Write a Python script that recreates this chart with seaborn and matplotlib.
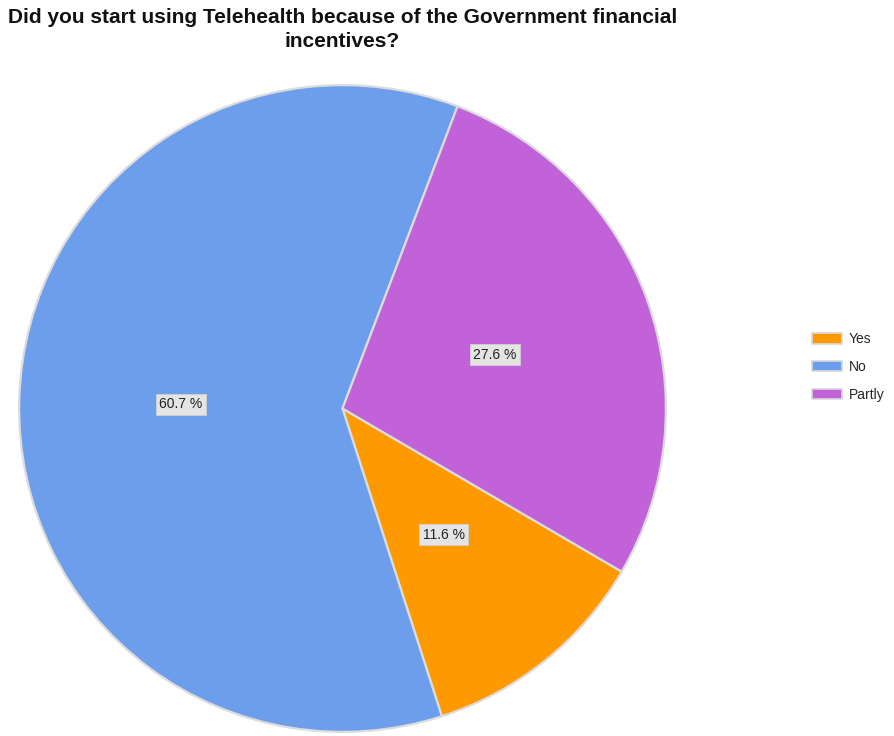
import matplotlib
matplotlib.use("Agg")
import matplotlib.pyplot as plt
import seaborn as sns

# Survey answers and their shares (percent)
categories = ["Yes", "No", "Partly"]
shares = [11.6, 60.7, 27.6]
colors = ["#FF9900", "#6D9EEB", "#C262D8"]
title = "Did you start using Telehealth because of the Government financial\nincentives?"

sns.set_theme(style="white")
plt.rcParams["font.family"] = ["Liberation Sans", "DejaVu Sans"]

W, H = 895, 736
fig = plt.figure(figsize=(W / 100, H / 100), dpi=100)

# Pie occupies a square box in pixel coordinates
cx, cy, r = 342.5, 408.5, 325
ax = fig.add_axes([(cx - r) / W, (H - cy - r) / H, 2 * r / W, 2 * r / H])

wedges, texts = ax.pie(
    shares,
    colors=sns.color_palette(colors),
    labels=[f"{v:.1f} %" for v in shares],
    labeldistance=0.5,
    startangle=-30.3,
    counterclock=False,
    radius=1.0,
    wedgeprops=dict(edgecolor="#DCDCDC", linewidth=1.6),
    textprops=dict(fontsize=10, color="#222222"),
)
for t in texts:
    t.set_ha("center")
    t.set_va("center")
    t.set_bbox(dict(boxstyle="square,pad=0.25", fc="#E4E4E4", ec="#D0D0D0", lw=0.6))

ax.set_xlim(-1.005, 1.005)
ax.set_ylim(-1.005, 1.005)
ax.set_aspect("equal")
ax.axis("off")

fig.text(cx / W, 1 - 8 / H, title, ha="center", va="top",
         fontsize=15, fontweight="bold", color="#111111", linespacing=1.32)

leg = fig.legend(
    wedges, categories,
    loc="center left",
    bbox_to_anchor=(800 / W, 1 - 367 / H),
    frameon=False,
    fontsize=10,
    handlelength=2.1,
    handleheight=0.8,
    labelspacing=1.0,
    handletextpad=0.5,
)
for h in leg.legend_handles:
    h.set_edgecolor("#D8D8D8")
    h.set_linewidth(1.2)

fig.savefig("out.png", dpi=100, facecolor="white")
